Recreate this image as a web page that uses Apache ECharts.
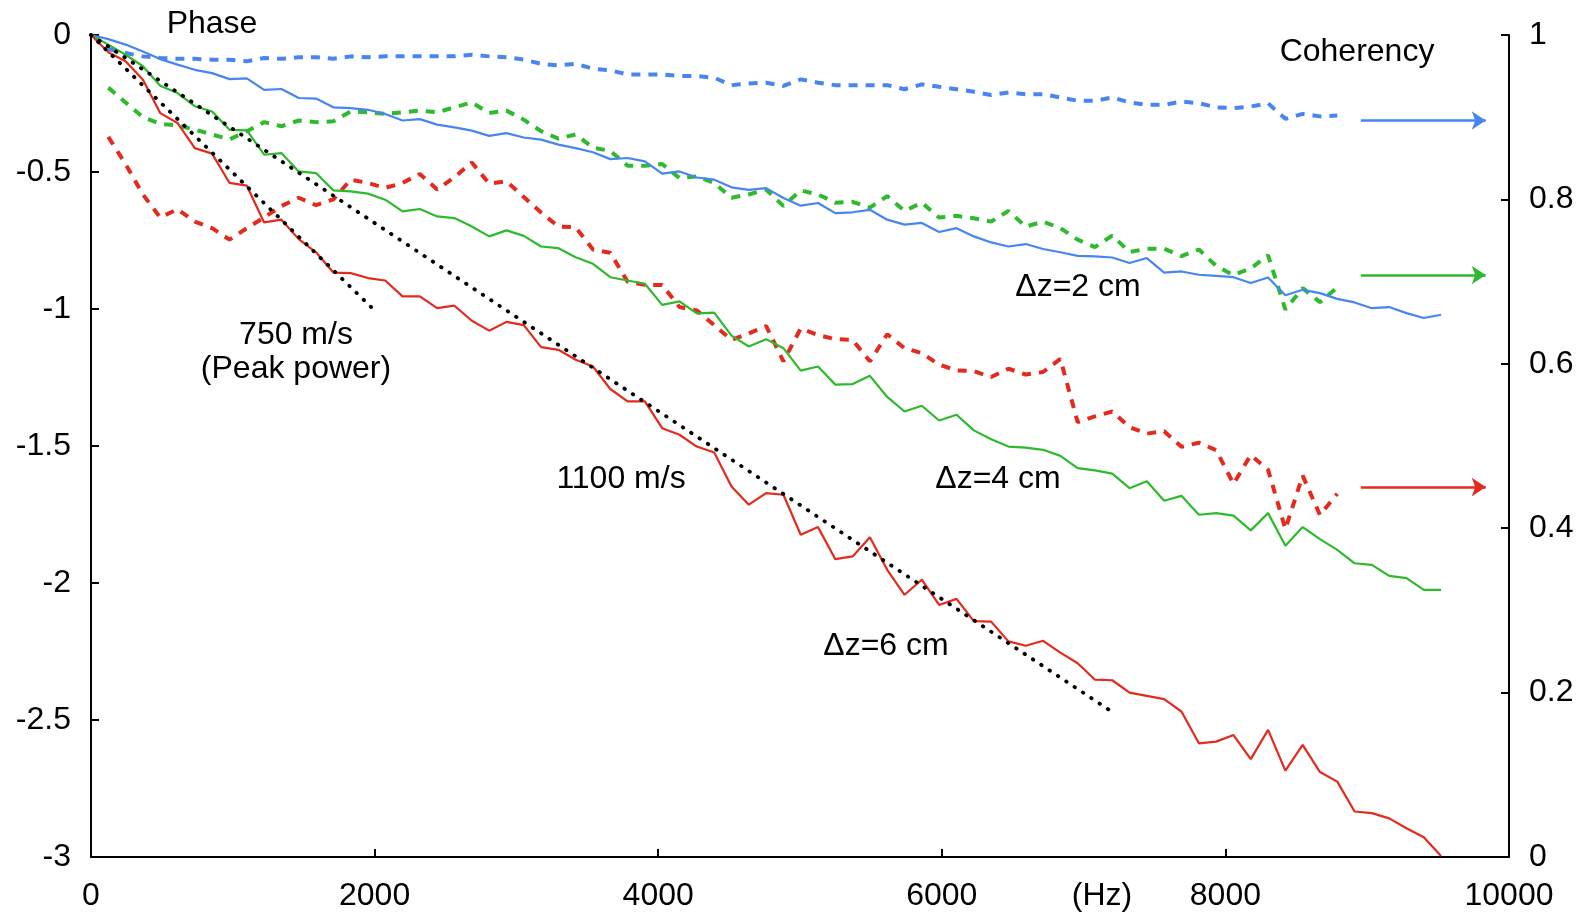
<!DOCTYPE html>
<html>
<head>
<meta charset="utf-8">
<script src="https://cdn.jsdelivr.net/npm/echarts@6/dist/echarts.min.js"></script>
<style>
html,body{margin:0;padding:0;background:#fff;}
#chart{width:1585px;height:915px;}
</style>
</head>
<body>
<div id="chart"></div>
<script>
// Frequency bins (Hz)
const freq = [0,122,244,366,488,610,732,854,977,1099,1221,1343,1465,1587,1709,1831,1953,2075,2197,2319,
2441,2563,2686,2808,2930,3052,3174,3296,3418,3540,3662,3784,3906,4028,4150,4272,4395,4517,4639,4761,
4883,5005,5127,5249,5371,5493,5615,5737,5859,5981,6104,6226,6348,6470,6592,6714,6836,6958,7080,7202,
7324,7446,7568,7690,7813,7935,8057,8179,8301,8423,8545,8667,8789,8911,9033,9155,9277,9399,9521];

// Phase (left axis), one value per frequency bin
const phase2cm = [0,-0.015,-0.035,-0.060,-0.088,-0.108,-0.127,-0.139,-0.161,-0.158,
-0.200,-0.197,-0.230,-0.232,-0.264,-0.267,-0.273,-0.288,-0.312,-0.307,
-0.327,-0.337,-0.349,-0.368,-0.358,-0.374,-0.382,-0.400,-0.413,-0.428,
-0.453,-0.449,-0.461,-0.506,-0.498,-0.520,-0.528,-0.556,-0.565,-0.559,
-0.595,-0.623,-0.613,-0.650,-0.647,-0.638,-0.674,-0.692,-0.686,-0.719,
-0.705,-0.735,-0.757,-0.772,-0.763,-0.781,-0.793,-0.806,-0.808,-0.812,
-0.832,-0.814,-0.867,-0.863,-0.875,-0.879,-0.884,-0.905,-0.885,-0.950,
-0.930,-0.942,-0.963,-0.976,-0.997,-0.993,-1.015,-1.033,-1.021];

const phase4cm = [0,-0.035,-0.072,-0.114,-0.185,-0.212,-0.260,-0.279,-0.346,-0.348,
-0.437,-0.431,-0.498,-0.504,-0.567,-0.571,-0.579,-0.601,-0.644,-0.635,
-0.662,-0.668,-0.699,-0.735,-0.713,-0.733,-0.772,-0.778,-0.811,-0.835,
-0.884,-0.896,-0.908,-0.985,-0.972,-1.016,-1.013,-1.097,-1.137,-1.110,
-1.143,-1.225,-1.210,-1.276,-1.274,-1.244,-1.321,-1.374,-1.353,-1.407,
-1.386,-1.443,-1.475,-1.502,-1.506,-1.514,-1.536,-1.581,-1.589,-1.601,
-1.654,-1.629,-1.700,-1.682,-1.751,-1.745,-1.754,-1.808,-1.745,-1.864,
-1.796,-1.840,-1.879,-1.928,-1.934,-1.974,-1.982,-2.025,-2.025];

const phase6cm = [0,-0.063,-0.096,-0.163,-0.285,-0.321,-0.413,-0.433,-0.540,-0.550,
-0.684,-0.674,-0.745,-0.793,-0.867,-0.869,-0.887,-0.896,-0.954,-0.954,
-0.997,-0.988,-1.043,-1.079,-1.047,-1.059,-1.139,-1.149,-1.185,-1.210,
-1.292,-1.337,-1.337,-1.435,-1.459,-1.502,-1.524,-1.648,-1.714,-1.672,
-1.678,-1.824,-1.796,-1.913,-1.903,-1.833,-1.952,-2.043,-1.988,-2.080,
-2.058,-2.139,-2.141,-2.213,-2.229,-2.211,-2.254,-2.293,-2.353,-2.355,
-2.400,-2.412,-2.424,-2.469,-2.585,-2.579,-2.555,-2.643,-2.536,-2.685,
-2.591,-2.690,-2.725,-2.834,-2.840,-2.859,-2.895,-2.928,-2.996];

// Coherency (right axis), bins 1..72
const coh2cm = [0.983,0.978,0.974,0.972,0.971,0.971,0.970,0.970,0.968,0.972,
0.971,0.973,0.973,0.971,0.974,0.973,0.974,0.974,0.974,0.974,
0.974,0.976,0.974,0.973,0.970,0.965,0.963,0.965,0.959,0.957,
0.952,0.952,0.952,0.950,0.950,0.948,0.939,0.941,0.942,0.938,
0.946,0.942,0.939,0.939,0.939,0.939,0.934,0.940,0.937,0.934,
0.931,0.927,0.930,0.928,0.928,0.924,0.920,0.920,0.924,0.918,
0.915,0.915,0.919,0.917,0.912,0.911,0.913,0.917,0.898,0.904,
0.901,0.902];

const coh4cm = [0.936,0.918,0.900,0.892,0.890,0.885,0.879,0.873,0.883,0.894,
0.889,0.896,0.894,0.895,0.907,0.906,0.904,0.906,0.908,0.906,
0.912,0.918,0.905,0.908,0.897,0.883,0.874,0.879,0.863,0.859,
0.841,0.841,0.843,0.826,0.828,0.820,0.802,0.806,0.812,0.792,
0.811,0.806,0.796,0.797,0.790,0.804,0.786,0.796,0.778,0.780,
0.777,0.773,0.786,0.767,0.773,0.765,0.751,0.742,0.756,0.736,
0.740,0.740,0.731,0.739,0.719,0.708,0.716,0.732,0.666,0.692,
0.675,0.693];

const coh6cm = [0.876,0.843,0.806,0.778,0.788,0.773,0.765,0.751,0.765,0.778,
0.792,0.802,0.793,0.800,0.824,0.820,0.814,0.820,0.831,0.812,
0.827,0.845,0.819,0.822,0.803,0.784,0.767,0.766,0.739,0.735,
0.700,0.696,0.696,0.669,0.665,0.647,0.629,0.637,0.646,0.603,
0.643,0.635,0.630,0.629,0.603,0.636,0.619,0.613,0.599,0.592,
0.591,0.584,0.594,0.587,0.590,0.606,0.529,0.536,0.542,0.523,
0.515,0.518,0.499,0.504,0.495,0.454,0.489,0.471,0.399,0.464,
0.416,0.442];

// Reference velocity lines (endpoints: Hz, phase)
const line750 = [[0, 0], [2000, -1.005]];
const line1100 = [[0, 0], [7200, -2.47]];

// Axis ticks
const xTicks = {min: 0, max: 10000, step: 2000};
const phaseTicks = {min: -3, max: 0, step: 0.5};
const cohTicks = {min: 0, max: 1, step: 0.2};

// Arrow markers (Hz, coherency)
const arrowFrom = 8955, arrowTo = 9836;
const arrowLevels = {blue: 0.896, green: 0.708, red: 0.450};

const BLUE = '#4785F0', GREEN = '#2DBA2D', RED = '#E42A1D';
const FONT = 'Liberation Sans, Arial, Helvetica, sans-serif';
const FS = 32;

function phaseData(arr){ return arr.map((v,i)=>[freq[i], v]); }
function cohData(arr){ return arr.map((v,i)=>[freq[i+1], v]); }

const chart = echarts.init(document.getElementById('chart'), null, {renderer:'canvas'});

const axisCommon = {
  axisLine: {show: true, onZero: false, lineStyle: {color: '#000', width: 2}},
  axisTick: {show: true, inside: true, length: 8, lineStyle: {color: '#000', width: 2}},
  splitLine: {show: false},
  axisLabel: {color: '#000', fontSize: FS, fontFamily: FONT, formatter: v => String(v)}
};

function arrowMark(level, color){
  return {
    silent: true,
    symbol: ['none', 'arrow'],
    symbolSize: [14, 14],
    label: {show: false},
    lineStyle: {color: color, width: 2.5, type: 'solid'},
    data: [[{coord: [arrowFrom, level]}, {coord: [arrowTo, level]}]]
  };
}

const solid = (name, data, color) => ({
  name, type: 'line', data: phaseData(data), yAxisIndex: 0,
  showSymbol: false, symbol: 'none',
  lineStyle: {color, width: 2.2}, itemStyle: {color}, z: 3
});
const dashed = (name, data, color, level) => ({
  name, type: 'line', data: cohData(data), yAxisIndex: 1,
  showSymbol: false, symbol: 'none',
  lineStyle: {color, width: 4, type: [9, 8]}, itemStyle: {color}, z: 2,
  markLine: arrowMark(level, color)
});
const dotted = (name, data) => ({
  name, type: 'line', data, yAxisIndex: 0,
  showSymbol: false, symbol: 'none',
  lineStyle: {color: '#000', width: 3.8, type: [0.5, 9.5], cap: 'round'}, z: 4
});

const textStyle = {fill: '#000', fontSize: FS, fontFamily: FONT, textAlign: 'center', textVerticalAlign: 'middle'};
function label(text, x, y){ return {type: 'text', x, y, style: Object.assign({text}, textStyle), z: 10}; }

chart.setOption({
  animation: false,
  backgroundColor: '#fff',
  grid: {left: 91, right: 76, top: 35, bottom: 58, containLabel: false},
  xAxis: Object.assign({}, axisCommon, {
    type: 'value', min: xTicks.min, max: xTicks.max, interval: xTicks.step,
    axisLabel: Object.assign({}, axisCommon.axisLabel, {margin: 23})
  }),
  yAxis: [
    Object.assign({}, axisCommon, {
      type: 'value', position: 'left', min: phaseTicks.min, max: phaseTicks.max, interval: phaseTicks.step,
      axisLabel: Object.assign({}, axisCommon.axisLabel, {margin: 20})
    }),
    Object.assign({}, axisCommon, {
      type: 'value', position: 'right', min: cohTicks.min, max: cohTicks.max, interval: cohTicks.step,
      axisLabel: Object.assign({}, axisCommon.axisLabel, {margin: 20})
    })
  ],
  series: [
    dashed('Coherency 2 cm', coh2cm, BLUE, arrowLevels.blue),
    dashed('Coherency 4 cm', coh4cm, GREEN, arrowLevels.green),
    dashed('Coherency 6 cm', coh6cm, RED, arrowLevels.red),
    solid('Phase 2 cm', phase2cm, BLUE),
    solid('Phase 4 cm', phase4cm, GREEN),
    solid('Phase 6 cm', phase6cm, RED),
    dotted('750 m/s', line750),
    dotted('1100 m/s', line1100)
  ],
  graphic: [
    label('Phase', 212, 24),
    label('Coherency', 1357, 52),
    label('\u0394z=2 cm', 1078, 287),
    label('\u0394z=4 cm', 998, 479),
    label('\u0394z=6 cm', 886, 646),
    label('750 m/s', 296, 335),
    label('(Peak power)', 296, 369),
    label('1100 m/s', 621, 479),
    label('(Hz)', 1102, 896)
  ]
});
</script>
</body>
</html>
